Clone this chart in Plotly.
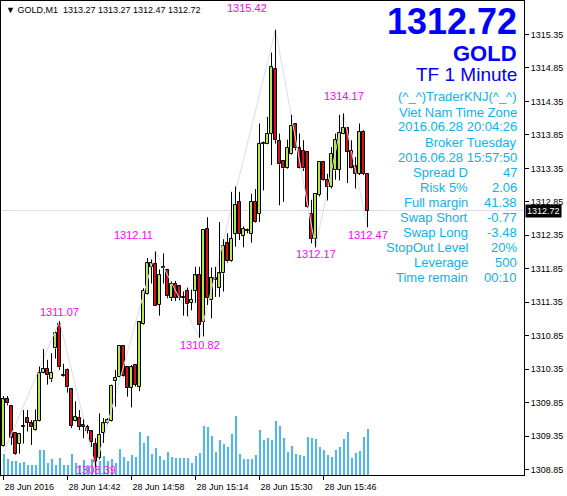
import plotly.graph_objects as go

# ---------------- data ----------------
opens = [1309.20, 1309.91, 1309.80, 1309.39, 1309.24, 1309.50, 1309.62, 1309.54, 1309.44, 1309.58,
         1310.30, 1310.36, 1310.20, 1310.66, 1311.02, 1310.26, 1310.34, 1310.05, 1309.58, 1309.62,
         1309.51, 1309.49, 1309.42, 1309.23, 1309.02, 1309.40, 1309.54, 1309.58, 1310.17, 1310.24,
         1310.70, 1310.38, 1310.07, 1310.41, 1310.09, 1311.02, 1311.47, 1311.88, 1311.92, 1311.31,
         1311.87, 1311.83, 1311.41, 1311.63, 1311.59, 1311.42, 1311.52, 1311.34, 1311.52, 1311.76,
         1311.06, 1312.45, 1311.38, 1311.72, 1311.57, 1311.78, 1312.23, 1311.96, 1312.37, 1312.85,
         1312.34, 1312.42, 1312.37, 1312.85, 1312.67, 1313.72, 1313.72, 1313.87, 1314.83, 1313.76,
         1313.46, 1313.35, 1313.56, 1314.01, 1313.65, 1313.61, 1313.60, 1312.67, 1312.30, 1312.95,
         1313.45, 1313.18, 1313.07, 1313.32, 1313.33, 1313.87, 1313.96, 1313.61, 1313.38, 1313.27,
         1313.90, 1313.27]
highs = [1309.95, 1309.95, 1309.81, 1309.39, 1309.40, 1309.74, 1309.74, 1309.59, 1309.75, 1310.39,
         1310.65, 1310.49, 1310.59, 1310.91, 1311.07, 1310.43, 1310.36, 1310.07, 1309.87, 1309.74,
         1309.60, 1309.52, 1309.44, 1309.32, 1309.69, 1309.62, 1309.62, 1310.12, 1310.34, 1310.71,
         1310.71, 1310.39, 1310.41, 1310.41, 1311.06, 1311.56, 1312.01, 1311.99, 1312.11, 1311.84,
         1312.08, 1311.85, 1311.66, 1311.67, 1311.61, 1311.51, 1311.57, 1311.54, 1311.88, 1311.88,
         1312.44, 1312.62, 1311.87, 1311.88, 1312.55, 1312.29, 1312.38, 1313.00, 1313.08, 1313.00,
         1312.48, 1312.45, 1312.97, 1313.04, 1314.02, 1313.75, 1314.12, 1315.08, 1315.42, 1313.87,
         1313.47, 1313.78, 1314.15, 1314.02, 1313.87, 1313.77, 1313.60, 1312.88, 1312.97, 1313.46,
         1313.46, 1313.27, 1313.67, 1313.87, 1314.15, 1314.17, 1313.97, 1313.77, 1313.52, 1314.02,
         1313.92, 1313.27]
lows = [1309.19, 1309.81, 1309.22, 1309.07, 1309.09, 1309.24, 1309.42, 1309.22, 1309.43, 1309.57,
        1310.29, 1310.12, 1310.16, 1310.51, 1310.34, 1310.24, 1310.00, 1309.47, 1309.57, 1309.44,
        1309.32, 1309.39, 1309.19, 1308.89, 1309.00, 1309.25, 1309.53, 1309.57, 1309.79, 1310.23,
        1310.24, 1309.94, 1309.78, 1310.09, 1310.02, 1311.01, 1311.46, 1311.63, 1311.30, 1311.15,
        1311.63, 1311.41, 1311.37, 1311.37, 1311.38, 1311.15, 1311.14, 1311.23, 1311.34, 1310.82,
        1310.84, 1311.31, 1311.11, 1311.43, 1311.43, 1311.51, 1311.94, 1311.95, 1312.18, 1312.28,
        1312.17, 1312.38, 1312.24, 1312.54, 1312.55, 1313.02, 1313.71, 1313.40, 1313.72, 1312.80,
        1312.85, 1313.34, 1313.55, 1313.62, 1313.35, 1313.31, 1312.76, 1312.23, 1312.17, 1312.93,
        1313.16, 1312.87, 1313.05, 1313.18, 1313.17, 1313.86, 1313.13, 1313.35, 1313.05, 1313.25,
        1313.25, 1312.47]
closes = [1309.90, 1309.84, 1309.33, 1309.08, 1309.38, 1309.50, 1309.55, 1309.48, 1309.58, 1310.29,
          1310.36, 1310.26, 1310.30, 1310.89, 1310.38, 1310.26, 1310.08, 1309.50, 1309.63, 1309.49,
          1309.49, 1309.43, 1309.27, 1308.97, 1309.37, 1309.54, 1309.59, 1310.10, 1310.22, 1310.70,
          1310.25, 1310.07, 1310.38, 1310.12, 1311.05, 1311.52, 1311.93, 1311.93, 1311.30, 1311.76,
          1311.86, 1311.44, 1311.63, 1311.42, 1311.41, 1311.42, 1311.32, 1311.39, 1311.75, 1311.01,
          1312.43, 1311.41, 1311.72, 1311.68, 1311.78, 1312.19, 1311.96, 1312.30, 1312.80, 1312.37,
          1312.45, 1312.42, 1312.85, 1312.55, 1313.72, 1313.72, 1313.87, 1314.86, 1313.77, 1313.41,
          1313.35, 1313.66, 1313.98, 1313.65, 1313.36, 1313.35, 1312.77, 1312.30, 1312.97, 1313.45,
          1313.17, 1313.07, 1313.57, 1313.77, 1313.88, 1313.96, 1313.60, 1313.36, 1313.27, 1313.90,
          1313.27, 1312.72]
volumes = [63, 49, 41, 43, 35, 39, 29, 29, 29, 74, 74, 35, 47, 29, 50, 29, 29, 63, 36, 30,
           45, 30, 48, 40, 43, 58, 43, 48, 35, 78, 53, 41, 61, 55, 130, 95, 118, 63, 81, 58,
           45, 68, 55, 51, 51, 51, 52, 37, 58, 67, 147, 143, 117, 70, 105, 93, 85, 123, 177, 63,
           47, 47, 47, 60, 135, 105, 112, 105, 162, 147, 112, 70, 87, 62, 60, 57, 113, 110, 108, 83,
           75, 60, 53, 75, 83, 108, 130, 50, 67, 72, 115, 138]

x_tick_bars = [0, 16, 32, 48, 64, 80]
x_tick_labels = ["28 Jun 2016", "28 Jun 14:42", "28 Jun 14:58", "28 Jun 15:14", "28 Jun 15:30", "28 Jun 15:46"]
y_tick_vals = [1308.85 + 0.5 * k for k in range(14)]
y_tick_labels = [f"{v:.2f}" for v in y_tick_vals]

zz_bars = [0, 14, 23, 38, 49, 68, 78, 85, 91]
zz_prices = [1309.10, 1311.07, 1308.89, 1312.11, 1310.82, 1315.42, 1312.17, 1314.17, 1312.47]
zz_texts = ["", "1311.07", "1308.39", "1312.11", "1310.82", "1315.42", "1312.17", "1314.17", "1312.47"]
# label placement (pixel offsets of the label centre from its pivot)
zz_xshift = [0, 0, 0, -22, 0, -29, 0, 0, 0]
zz_yshift = [0, 9, -3, 16, -7, 22, -7, 17, -8]

info_labels = ["Spread D", "Risk 5%", "Full margin", "Swap Short", "Swap Long", "StopOut Level", "Leverage", "Time remain"]
info_values = ["47", "2.06", "41.38", "-0.77", "-3.48", "20%", "500", "00:10"]
info_header = ["(^_^)TraderKNJ(^_^)", "Viet Nam Time Zone", "2016.06.28 20:04:26", "Broker Tuesday", "2016.06.28 15:57:50"]
symbol = "GOLD"
timeframe = "TF 1 Minute"

# ---------------- figure ----------------
W, H = 567, 496
ML, MR, MT, MB = 1, 43, 1, 21
PW, PH = W - ML - MR, H - MT - MB

UP, DN = "#B4E64E", "#D81010"
INFO = "#10B0F0"
VOLC = "#4CBAF0"
n = len(opens)
idx = list(range(n))
ymin, ymax = 1308.77, 1315.85
PX = (ymax - ymin) / PH  # one pixel in price units
xmin, xmax = -0.625, 130.125   # 4 px per bar

fig = go.Figure()

# volume (hidden axis y)
fig.add_trace(go.Bar(x=idx, y=volumes, width=0.5, marker=dict(color=VOLC, line=dict(width=0)),
                     yaxis="y", hoverinfo="skip"))

# zigzag
fig.add_trace(go.Scatter(x=zz_bars, y=zz_prices, mode="lines", line=dict(color="#DADAF4", width=1),
                         yaxis="y2", hoverinfo="skip"))

# wicks (above and below the body only)
wx, wy = [], []
for i in idx:
    lo, hi = min(opens[i], closes[i]), max(opens[i], closes[i])
    if highs[i] > hi:
        wx += [i, i, None]; wy += [hi, highs[i], None]
    if lows[i] < lo:
        wx += [i, i, None]; wy += [lows[i], lo, None]
fig.add_trace(go.Scatter(x=wx, y=wy, mode="lines", line=dict(color="black", width=1), yaxis="y2",
                         hoverinfo="skip"))

# bodies
base, hgt, col = [], [], []
for i in idx:
    lo, hi = min(opens[i], closes[i]), max(opens[i], closes[i])
    h = max(hi - lo, 1.0 * PX)
    base.append((lo + hi) / 2 - h / 2)
    hgt.append(h)
    col.append(UP if closes[i] >= opens[i] else DN)
fig.add_trace(go.Bar(x=idx, y=hgt, base=base, width=0.75,
                     marker=dict(color=col, line=dict(color="black", width=1)), yaxis="y2",
                     hoverinfo="skip"))

fig.update_layout(
    width=W, height=H, autosize=False,
    margin=dict(l=ML, r=MR, t=MT, b=MB, pad=0),
    paper_bgcolor="white", plot_bgcolor="white",
    showlegend=False, barmode="overlay", bargap=0,
    font=dict(family="Liberation Sans, Arial, sans-serif", size=9, color="black"),
    xaxis=dict(range=[xmin, xmax], tickvals=x_tick_bars, ticktext=x_tick_labels,
               ticks="outside", ticklen=4, tickcolor="black", showline=True, linecolor="black",
               linewidth=1, mirror=True, showgrid=False, zeroline=False,
               ticklabelposition="outside right", ticklabelstandoff=3,
               tickfont=dict(size=9), anchor="y2"),
    yaxis=dict(range=[0, 1422], visible=False, fixedrange=True),
    yaxis2=dict(range=[ymin, ymax], overlaying="y", side="right", tickvals=y_tick_vals,
                ticktext=y_tick_labels, ticks="outside", ticklen=4, tickcolor="black",
                showline=True, linecolor="black", linewidth=1, mirror=True, showgrid=False,
                zeroline=False, tickfont=dict(size=9)),
)

# bid line
fig.add_shape(type="line", xref="paper", yref="y2", x0=0, x1=1, y0=closes[-1], y1=closes[-1],
              line=dict(color="#DCDCF0", width=1), layer="below")

def px_x(x):
    return (x - ML) / PW

def px_y(y):
    return (H - MB - y) / PH

ann = []
# zigzag labels
for b, p, t, xs, ys in zip(zz_bars, zz_prices, zz_texts, zz_xshift, zz_yshift):
    if not t:
        continue
    ann.append(dict(x=b, y=p, xref="x", yref="y2", text=t, showarrow=False,
                    xanchor="center", yanchor="middle", xshift=xs, yshift=ys,
                    font=dict(color="#FF00FF", size=11, family="Liberation Sans, Arial")))

# header top-left
ann.append(dict(x=px_x(4), y=px_y(10), xref="paper", yref="paper", xanchor="left", yanchor="middle",
                text=f"▼ {symbol},M1  {opens[-1]:.2f} {highs[-1]:.2f} {lows[-1]:.2f} {closes[-1]:.2f}",
                showarrow=False, font=dict(size=9, color="black")))

# big price, symbol, timeframe
ann.append(dict(x=px_x(519), y=px_y(21), xref="paper", yref="paper", xanchor="right", yanchor="middle",
                text=f"<b>{closes[-1]:.2f}</b>", showarrow=False,
                font=dict(size=36, color="#0000FF", family="Liberation Sans, Arial")))
ann.append(dict(x=px_x(519), y=px_y(53), xref="paper", yref="paper", xanchor="right", yanchor="middle",
                text=f"<b>{symbol}</b>", showarrow=False,
                font=dict(size=22, color="#0000FF", family="Liberation Sans, Arial")))
ann.append(dict(x=px_x(519), y=px_y(75), xref="paper", yref="paper", xanchor="right", yanchor="middle",
                text=timeframe, showarrow=False,
                font=dict(size=19, color="#0000FF", family="Liberation Sans, Arial")))

y0 = 97
for k, t in enumerate(info_header):
    ann.append(dict(x=px_x(519), y=px_y(y0 + 15 * k), xref="paper", yref="paper", xanchor="right",
                    yanchor="middle", text=t, showarrow=False,
                    font=dict(size=13, color=INFO, family="Liberation Sans, Arial")))
for k, (lab, val) in enumerate(zip(info_labels, info_values)):
    yy = y0 + 15 * (len(info_header) + k)
    ann.append(dict(x=px_x(470), y=px_y(yy), xref="paper", yref="paper", xanchor="right",
                    yanchor="middle", text=lab, showarrow=False,
                    font=dict(size=13, color=INFO, family="Liberation Sans, Arial")))
    ann.append(dict(x=px_x(519), y=px_y(yy), xref="paper", yref="paper", xanchor="right",
                    yanchor="middle", text=val, showarrow=False,
                    font=dict(size=13, color=INFO, family="Liberation Sans, Arial")))

# current price box on axis
ann.append(dict(x=1, y=closes[-1], xref="paper", yref="y2", xanchor="left", yanchor="middle",
                xshift=1, text=f"{closes[-1]:.2f}", showarrow=False, bgcolor="black",
                borderpad=1, font=dict(size=9, color="white")))

fig.update_layout(annotations=ann)

fig.write_html("out.html", config={"displayModeBar": False},
               post_script="document.body.style.margin='0';")
